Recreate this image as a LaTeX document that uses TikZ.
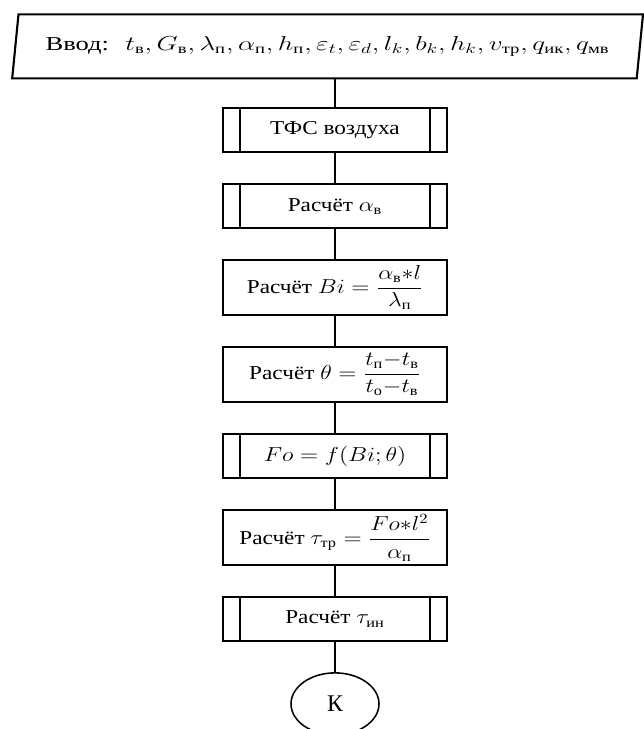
\documentclass[tikz,border=0pt]{standalone}
\usepackage{amsmath}
\usepackage{graphicx}
\usepackage{fontspec}
\setmainfont{Liberation Serif}
\usetikzlibrary{positioning, shapes.geometric}

\newcommand{\tx}[1]{\text{#1}}
\newcommand{\wide}[2][1.18]{\scalebox{#1}[1]{#2}}

\begin{document}
\begin{tikzpicture}[
    node distance=7.5mm,
    line width=1.5pt,
    font=\fontsize{14}{16}\selectfont,
    inbox/.style={trapezium, draw, trapezium left angle=74,
                  trapezium right angle=106, trapezium stretches=true,
                  minimum width=15.78cm, minimum height=1.6cm, inner sep=0pt},
    box/.style={rectangle, draw, minimum width=5.6cm, minimum height=1.37cm,
                align=center, inner sep=1pt},
    subproc/.style={box, minimum height=1.1cm,
                    path picture={\draw
                      ([xshift=4.2mm]path picture bounding box.north west) --
                      ([xshift=4.2mm]path picture bounding box.south west)
                      ([xshift=-4.2mm]path picture bounding box.north east) --
                      ([xshift=-4.2mm]path picture bounding box.south east);}},
    term/.style={ellipse, draw, minimum width=2.2cm, minimum height=1.55cm,
                 line width=1.1pt, font=\fontsize{17}{19}\selectfont}
]
  \useasboundingbox (0,0) rectangle (16.075,-18.225);

  % Input
  \node[inbox] (in) at (8.19,-1.16)
    {\wide[1.35]{Ввод:\; $t_{\tx{в}}, G_{\tx{в}}, \lambda_{\tx{п}}, \alpha_{\tx{п}}, h_{\tx{п}},
     \varepsilon_t, \varepsilon_d, l_k, b_k, h_k, v_{\tx{тр}}, q_{\tx{ик}}, q_{\tx{мв}}$}\hspace{6mm}};

  % Calculation steps
  \node[subproc] (tfs) at (8.375,-3.25) {\wide{ТФС воздуха}};
  \node[subproc, below=of tfs] (alpha) {\wide{Расчёт $\alpha_{\tx{в}}$}};
  \node[box, below=of alpha] (bi)
    {\wide{Расчёт $Bi = \dfrac{\alpha_{\tx{в}}{\ast}l}{\lambda_{\tx{п}}}$}};
  \node[box, below=of bi] (theta)
    {\wide{Расчёт $\theta = \dfrac{t_{\tx{п}} {-} t_{\tx{в}}}{t_{\tx{о}} {-} t_{\tx{в}}}$}};
  \node[subproc, below=of theta] (fo) {\wide{$Fo = f(Bi;\theta)$}};
  \node[box, below=of fo] (tau)
    {\wide{Расчёт $\tau_{\tx{тр}} = \dfrac{Fo{\ast}l^2}{\alpha_{\tx{п}}}$}};
  \node[subproc, below=of tau] (tauin) {\wide{Расчёт $\tau_{\tx{ин}}$}};

  % End
  \node[term, below=of tauin] (fin) {К};

  % Lines
  \draw (in.south -| tfs.north) -- (tfs.north);
  \draw (tfs) -- (alpha);
  \draw (alpha) -- (bi);
  \draw (bi) -- (theta);
  \draw (theta) -- (fo);
  \draw (fo) -- (tau);
  \draw (tau) -- (tauin);
  \draw (tauin) -- (fin);
\end{tikzpicture}
\end{document}
